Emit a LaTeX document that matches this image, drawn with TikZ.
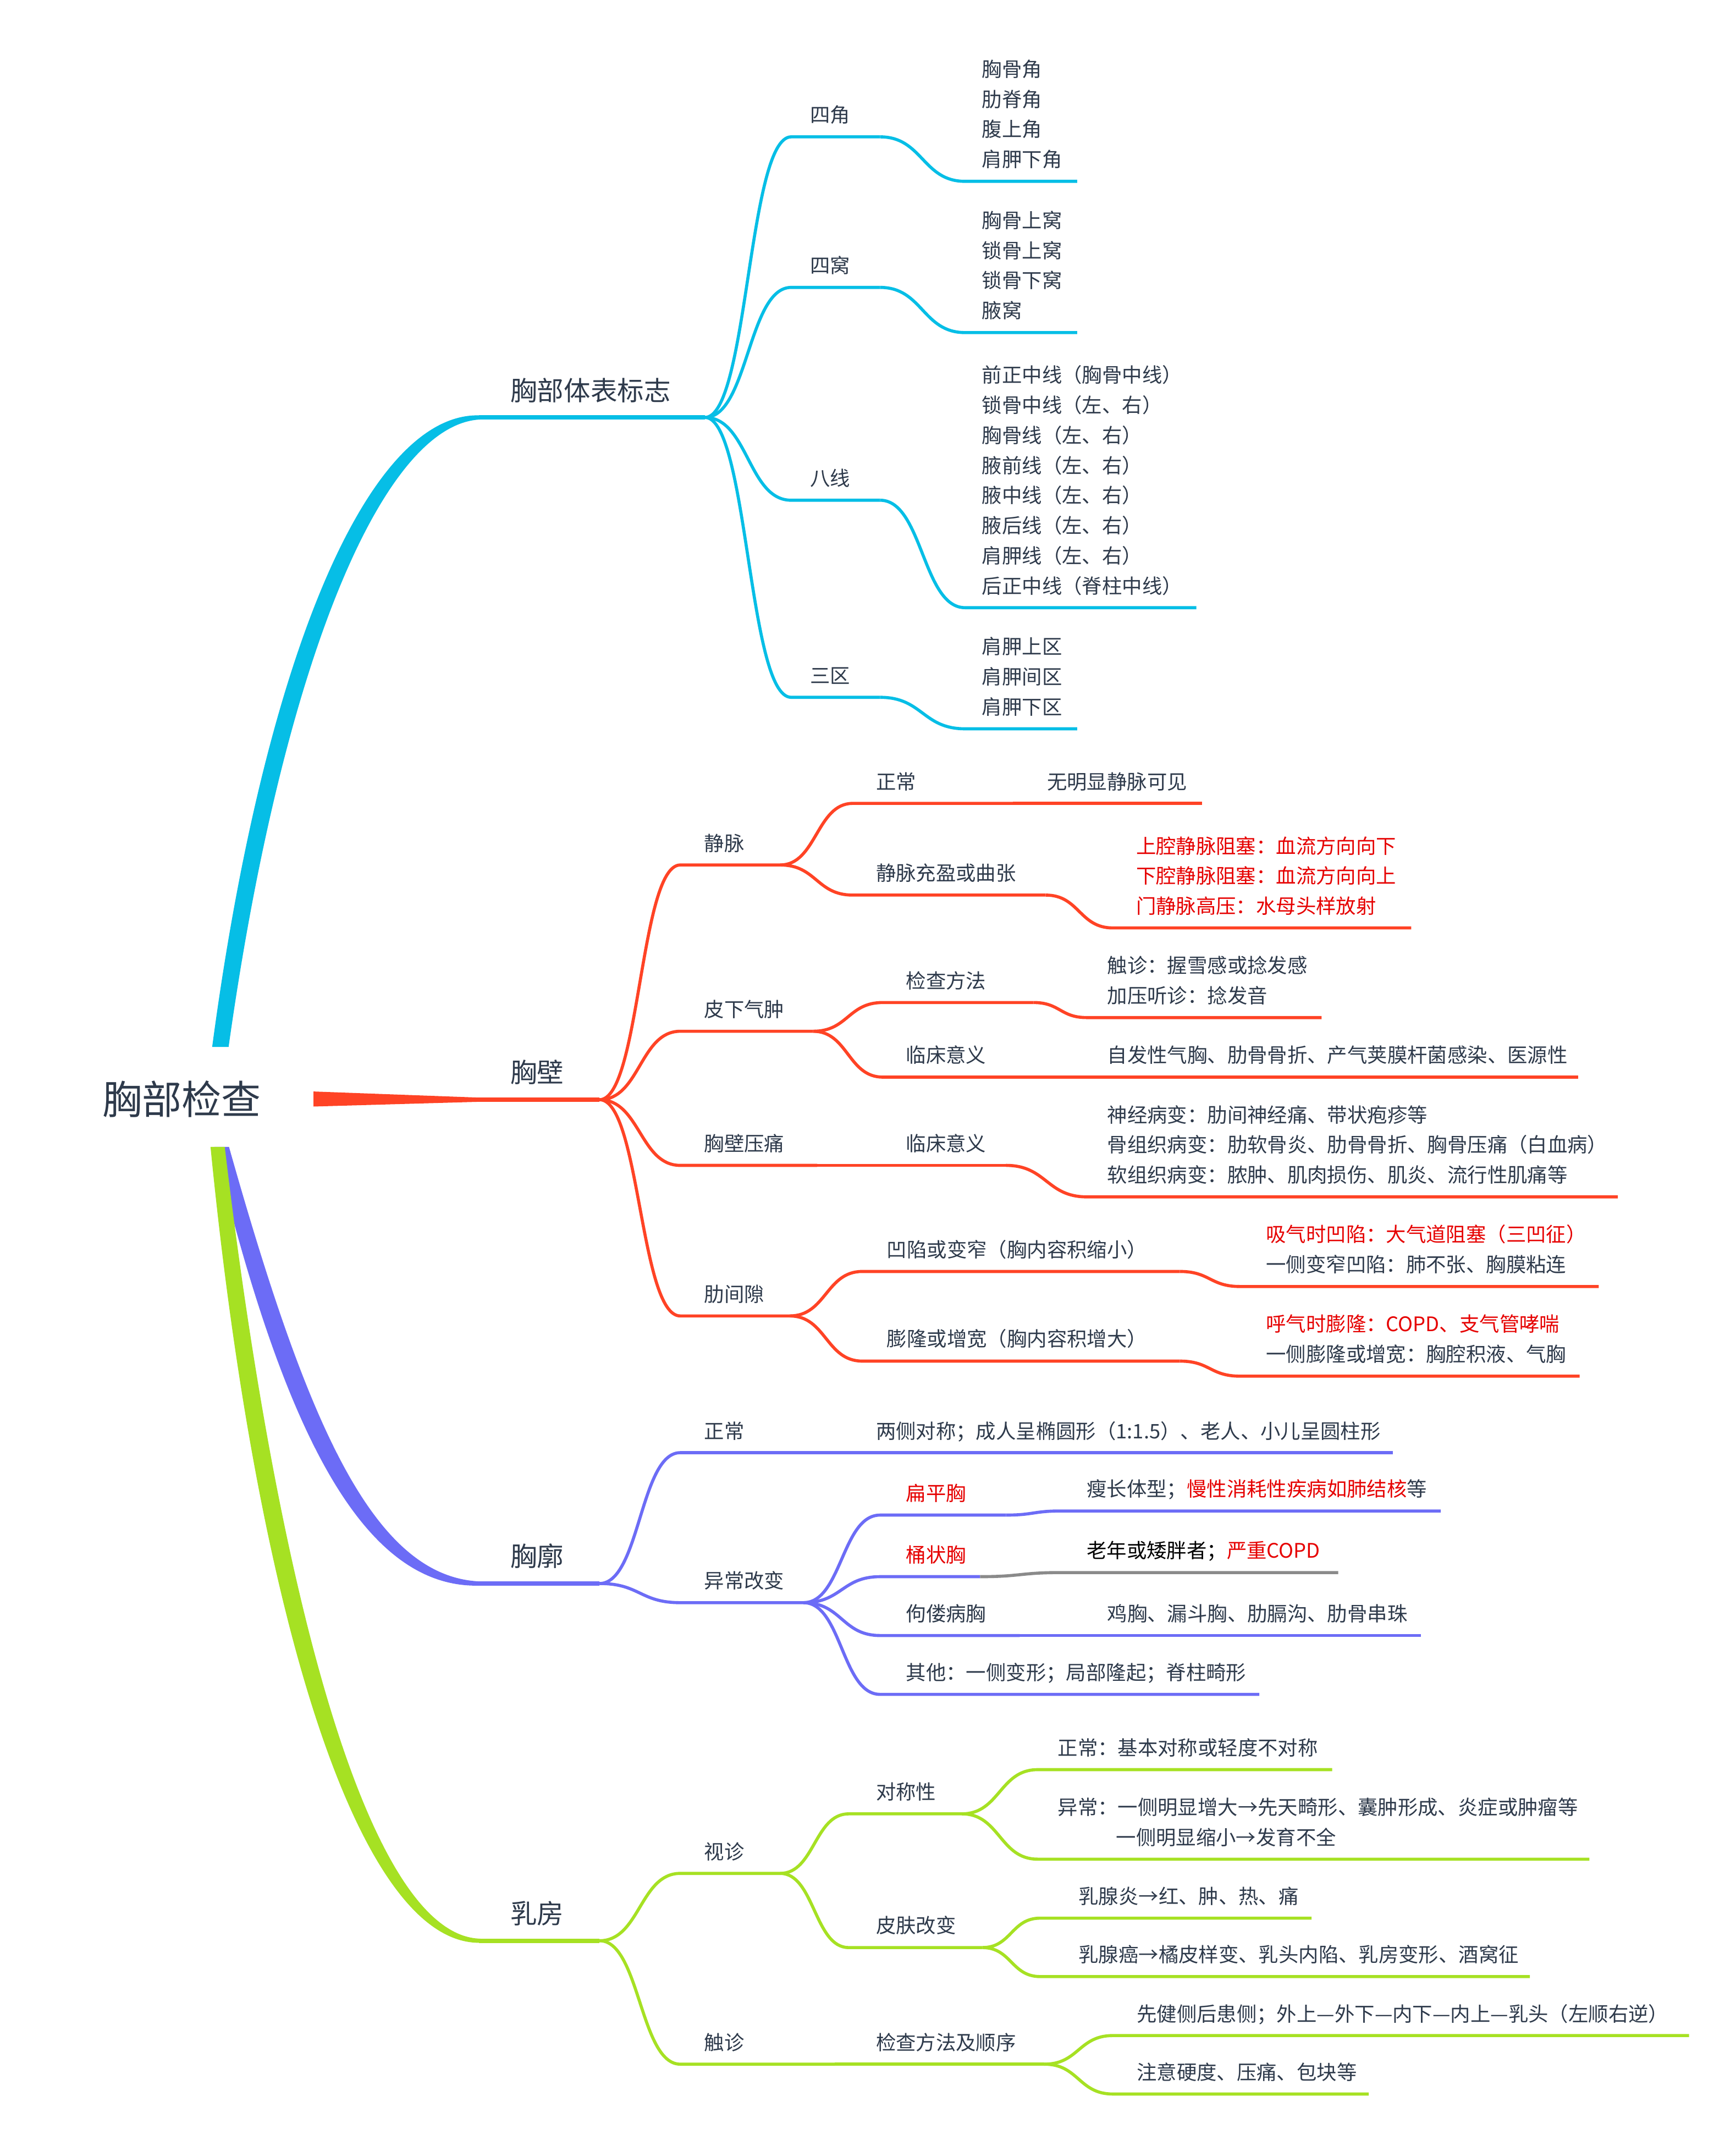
\documentclass[tikz,border=0pt]{standalone}
\usepackage{fontspec}
\setmainfont{Noto Sans CJK SC}
\usetikzlibrary{calc}
\definecolor{txt}{HTML}{2E3A4B}
\definecolor{cy}{HTML}{06BEE6}
\definecolor{rb}{HTML}{FF4325}
\definecolor{bl}{HTML}{6C6CF6}
\definecolor{gr}{HTML}{A6E123}
\definecolor{rt}{HTML}{E60000}
\definecolor{gy}{HTML}{8A8A8A}
\begin{document}
\begin{tikzpicture}[x=0.02489cm,y=-0.02489cm,
  tx/.style={anchor=base west,inner sep=0pt,outer sep=0pt,text=txt,font=\fontsize{10.35pt}{12pt}\selectfont},
  tone/.style={anchor=base west,inner sep=0pt,outer sep=0pt,text=txt,font=\fontsize{13.8pt}{16pt}\selectfont},
  troot/.style={anchor=base west,inner sep=0pt,outer sep=0pt,text=txt,font=\fontsize{20.5pt}{24pt}\selectfont},
  redt/.style={text=rt},
  ln/.style={line width=1.6pt},
  lone/.style={line width=2.2pt},
  cn/.style={to path={let \p1=(\tikztostart),\p2=(\tikztotarget) in .. controls ({0.5*\x1+0.5*\x2},\y1) and ({0.5*\x1+0.5*\x2},\y2) .. (\tikztotarget)}}
]
\fill[white] (0,0) rectangle (1268,1568);
\useasboundingbox (0,0) rectangle (1268,1568);

% ---------- root ----------
\node[troot] (root) at (75,814) {胸部检查};

% ---------- level-1 anchor points ----------
\coordinate (As) at (350,305);    \coordinate (Ae) at (515,305);
\coordinate (Bs) at (350,803.5);  \coordinate (Be) at (438,803.5);
\coordinate (Cs) at (350,1157);   \coordinate (Ce) at (438,1157);
\coordinate (Ds) at (350,1418);   \coordinate (De) at (438,1418);

% tapered main branches
\fill[cy] (155,765) .. controls (193.2,478.3) and (269.7,300.4) .. (351,303.5) -- (351,306.5) .. controls (280.3,309.6) and (206.8,481.7) .. (167,765) -- cycle;
\fill[bl] (156.7,838) .. controls (206.5,1042.8) and (264.1,1161.5) .. (351,1158.5) -- (351,1155.5) .. controls (271.9,1152.5) and (223.5,1037.2) .. (167.3,838) -- cycle;
\fill[gr] (153.8,838) .. controls (186.6,1171.5) and (259.9,1421.2) .. (351,1419.5) -- (351,1416.5) .. controls (270.1,1414.8) and (203.4,1168.5) .. (164.2,838) -- cycle;
\fill[rb] (229,797.5) -- (351,802) -- (351,805) -- (229,808.5) -- cycle;

\draw[lone,cy] (As) -- (Ae);
\draw[lone,rb] (Bs) -- (Be);
\draw[lone,bl] (Cs) -- (Ce);
\draw[lone,gr] (Ds) -- (De);

\node[tone] (nA) at (373,292.5) {胸部体表标志};
\node[tone] (nB) at (373,791) {胸壁};
\node[tone] (nC) at (373,1144.5) {胸廓};
\node[tone] (nD) at (373,1405.5) {乳房};

% ---------- A : 胸部体表标志 ----------
\coordinate (A1s) at (578,100);   \coordinate (A1e) at (643,100);
\coordinate (A1Ls) at (705,132.5);\coordinate (A1Le) at (787,132.5);
\coordinate (A2s) at (578,210);   \coordinate (A2e) at (643,210);
\coordinate (A2Ls) at (705,243);  \coordinate (A2Le) at (787,243);
\coordinate (A3s) at (578,365.5); \coordinate (A3e) at (643,365.5);
\coordinate (A3Ls) at (705,444);  \coordinate (A3Le) at (874,444);
\coordinate (A4s) at (578,509.5); \coordinate (A4e) at (643,509.5);
\coordinate (A4Ls) at (705,532.5);\coordinate (A4Le) at (787,532.5);

\draw[ln,cy] (Ae) to[cn] (A1s) -- (A1e);
\draw[ln,cy] (Ae) to[cn] (A2s) -- (A2e);
\draw[ln,cy] (Ae) to[cn] (A3s) -- (A3e);
\draw[ln,cy] (Ae) to[cn] (A4s) -- (A4e);
\draw[ln,cy] (A1e) to[cn] (A1Ls) -- (A1Le);
\draw[ln,cy] (A2e) to[cn] (A2Ls) -- (A2Le);
\draw[ln,cy] (A3e) to[cn] (A3Ls) -- (A3Le);
\draw[ln,cy] (A4e) to[cn] (A4Ls) -- (A4Le);

\node[tx] (nA1) at (592,89.5) {四角};
\node[tx] (nA2) at (592,199.5) {四窝};
\node[tx] (nA3) at (592,355) {八线};
\node[tx] (nA4) at (592,499) {三区};

\node[tx] (nA1a) at (717.5,56) {胸骨角};
\node[tx] (nA1b) at (717.5,78) {肋脊角};
\node[tx] (nA1c) at (717.5,100) {腹上角};
\node[tx] (nA1d) at (717.5,122) {肩胛下角};

\node[tx] (nA2a) at (717.5,166.5) {胸骨上窝};
\node[tx] (nA2b) at (717.5,188.5) {锁骨上窝};
\node[tx] (nA2c) at (717.5,210.5) {锁骨下窝};
\node[tx] (nA2d) at (717.5,232.5) {腋窝};

\node[tx] (nA3a) at (717.5,279.5) {前正中线（胸骨中线）};
\node[tx] (nA3b) at (717.5,301.5) {锁骨中线（左、右）};
\node[tx] (nA3c) at (717.5,323.5) {胸骨线（左、右）};
\node[tx] (nA3d) at (717.5,345.5) {腋前线（左、右）};
\node[tx] (nA3e) at (717.5,367.5) {腋中线（左、右）};
\node[tx] (nA3f) at (717.5,389.5) {腋后线（左、右）};
\node[tx] (nA3g) at (717.5,411.5) {肩胛线（左、右）};
\node[tx] (nA3h) at (717.5,433.5) {后正中线（脊柱中线）};

\node[tx] (nA4a) at (717.5,478) {肩胛上区};
\node[tx] (nA4b) at (717.5,500) {肩胛间区};
\node[tx] (nA4c) at (717.5,522) {肩胛下区};

% ---------- B : 胸壁 ----------
\coordinate (B1s) at (497,632);    \coordinate (B1e) at (570,632);
\coordinate (B1as) at (623,587);   \coordinate (B1ae) at (740,587);
\coordinate (B1aLs) at (750,587);  \coordinate (B1aLe) at (878,587);
\coordinate (B1bs) at (623,654);   \coordinate (B1be) at (764,654);
\coordinate (B1bLs) at (813,678);  \coordinate (B1bLe) at (1031,678);
\coordinate (B2s) at (497,753.5);  \coordinate (B2e) at (594,753.5);
\coordinate (B2as) at (645,732.5); \coordinate (B2ae) at (755,732.5);
\coordinate (B2aLs) at (794,743.5);\coordinate (B2aLe) at (965.5,743.5);
\coordinate (B2bs) at (645,787);   \coordinate (B2be) at (745,787);
\coordinate (B2bLs) at (755,787);  \coordinate (B2bLe) at (1153,787);
\coordinate (B3s) at (497,851.5);  \coordinate (B3e) at (597,851.5);
\coordinate (B3as) at (605,851.5); \coordinate (B3ae) at (735,851.5);
\coordinate (B3aLs) at (794,874.5);\coordinate (B3aLe) at (1182,874.5);
\coordinate (B4s) at (497,961.5);  \coordinate (B4e) at (577,961.5);
\coordinate (B4as) at (630,929);   \coordinate (B4ae) at (862,929);
\coordinate (B4aLs) at (906,940);  \coordinate (B4aLe) at (1168,940);
\coordinate (B4bs) at (630,994.5); \coordinate (B4be) at (862,994.5);
\coordinate (B4bLs) at (906,1005.5);\coordinate (B4bLe) at (1154,1005.5);

\draw[ln,rb] (Be) to[cn] (B1s) -- (B1e);
\draw[ln,rb] (Be) to[cn] (B2s) -- (B2e);
\draw[ln,rb] (Be) to[cn] (B3s) -- (B3e);
\draw[ln,rb] (Be) to[cn] (B4s) -- (B4e);
\draw[ln,rb] (B1e) to[cn] (B1as) -- (B1ae);
\draw[ln,rb] (B1ae) to[cn] (B1aLs) -- (B1aLe);
\draw[ln,rb] (B1e) to[cn] (B1bs) -- (B1be);
\draw[ln,rb] (B1be) to[cn] (B1bLs) -- (B1bLe);
\draw[ln,rb] (B2e) to[cn] (B2as) -- (B2ae);
\draw[ln,rb] (B2ae) to[cn] (B2aLs) -- (B2aLe);
\draw[ln,rb] (B2e) to[cn] (B2bs) -- (B2be);
\draw[ln,rb] (B2be) to[cn] (B2bLs) -- (B2bLe);
\draw[ln,rb] (B3e) to[cn] (B3as) -- (B3ae);
\draw[ln,rb] (B3ae) to[cn] (B3aLs) -- (B3aLe);
\draw[ln,rb] (B4e) to[cn] (B4as) -- (B4ae);
\draw[ln,rb] (B4ae) to[cn] (B4aLs) -- (B4aLe);
\draw[ln,rb] (B4e) to[cn] (B4bs) -- (B4be);
\draw[ln,rb] (B4be) to[cn] (B4bLs) -- (B4bLe);

\node[tx] (nB1) at (514.5,621.5) {静脉};
\node[tx] (nB2) at (514.5,743) {皮下气肿};
\node[tx] (nB3) at (514.5,841) {胸壁压痛};
\node[tx] (nB4) at (514.5,951) {肋间隙};

\node[tx] (nB1a) at (640,576.5) {正常};
\node[tx] (nB1aL) at (765,576.5) {无明显静脉可见};
\node[tx] (nB1b) at (640,643.5) {静脉充盈或曲张};
\node[tx,redt] (nB1bL1) at (830,623.5) {上腔静脉阻塞：血流方向向下};
\node[tx,redt] (nB1bL2) at (830,645.5) {下腔静脉阻塞：血流方向向上};
\node[tx,redt] (nB1bL3) at (830,667.5) {门静脉高压：水母头样放射};

\node[tx] (nB2a) at (662,722) {检查方法};
\node[tx] (nB2aL1) at (809,711) {触诊：握雪感或捻发感};
\node[tx] (nB2aL2) at (809,733) {加压听诊：捻发音};
\node[tx] (nB2b) at (662,776.5) {临床意义};
\node[tx] (nB2bL) at (809,776.5) {自发性气胸、肋骨骨折、产气荚膜杆菌感染、医源性};

\node[tx] (nB3a) at (662,841) {临床意义};
\node[tx] (nB3aL1) at (809,820) {神经病变：肋间神经痛、带状疱疹等};
\node[tx] (nB3aL2) at (809,842) {骨组织病变：肋软骨炎、肋骨骨折、胸骨压痛（白血病）};
\node[tx] (nB3aL3) at (809,864) {软组织病变：脓肿、肌肉损伤、肌炎、流行性肌痛等};

\node[tx] (nB4a) at (648,918.5) {凹陷或变窄（胸内容积缩小）};
\node[tx,redt] (nB4aL1) at (925,907.5) {吸气时凹陷：大气道阻塞（三凹征）};
\node[tx] (nB4aL2) at (925,929.5) {一侧变窄凹陷：肺不张、胸膜粘连};
\node[tx] (nB4b) at (648,983.5) {膨隆或增宽（胸内容积增大）};
\node[tx,redt] (nB4bL1) at (925,973) {呼气时膨隆：COPD、支气管哮喘};
\node[tx] (nB4bL2) at (925,995) {一侧膨隆或增宽：胸腔积液、气胸};

% ---------- C : 胸廓 ----------
\coordinate (C1s) at (497,1061.4);  \coordinate (C1e) at (610,1061.4);
\coordinate (C1Ls) at (620,1061.4); \coordinate (C1Le) at (1017.6,1061.4);
\coordinate (C2s) at (497,1171);    \coordinate (C2e) at (587,1171);
\coordinate (C2as) at (643,1107);   \coordinate (C2ae) at (735,1107);
\coordinate (C2aLs) at (775,1104);  \coordinate (C2aLe) at (1052.6,1104);
\coordinate (C2bs) at (643,1152);   \coordinate (C2be) at (716,1152);
\coordinate (C2bLs) at (775,1149);  \coordinate (C2bLe) at (977.7,1149);
\coordinate (C2cs) at (643,1195);   \coordinate (C2ce) at (745,1195);
\coordinate (C2cLs) at (755,1195);  \coordinate (C2cLe) at (1038,1195);
\coordinate (C2ds) at (643,1238);   \coordinate (C2de) at (920,1238);

\draw[ln,bl] (Ce) to[cn] (C1s) -- (C1e);
\draw[ln,bl] (C1e) to[cn] (C1Ls) -- (C1Le);
\draw[ln,bl] (Ce) to[cn] (C2s) -- (C2e);
\draw[ln,bl] (C2e) to[cn] (C2as) -- (C2ae);
\draw[ln,bl] (C2ae) to[cn] (C2aLs) -- (C2aLe);
\draw[ln,bl] (C2e) to[cn] (C2bs) -- (C2be);
\draw[ln,gy] (C2be) to[cn] (C2bLs) -- (C2bLe);
\draw[ln,bl] (C2e) to[cn] (C2cs) -- (C2ce);
\draw[ln,bl] (C2ce) to[cn] (C2cLs) -- (C2cLe);
\draw[ln,bl] (C2e) to[cn] (C2ds) -- (C2de);

\node[tx] (nC1) at (514.5,1051) {正常};
\node[tx] (nC1L) at (640,1051) {两侧对称；成人呈椭圆形（1:1.5）、老人、小儿呈圆柱形};
\node[tx] (nC2) at (514.5,1160.5) {异常改变};
\node[tx,redt] (nC2a) at (662,1096.5) {扁平胸};
\node[tx] (nC2aL) at (794,1093.5) {瘦长体型；\textcolor{rt}{慢性消耗性疾病如肺结核}等};
\node[tx,redt] (nC2b) at (662,1141.5) {桶状胸};
\node[tx] (nC2bL) at (794,1138.5) {\textcolor{black}{老年或矮胖者；}\textcolor{rt}{严重COPD}};
\node[tx] (nC2c) at (662,1184.5) {佝偻病胸};
\node[tx] (nC2cL) at (809,1184.5) {鸡胸、漏斗胸、肋膈沟、肋骨串珠};
\node[tx] (nC2d) at (662,1227.5) {其他：一侧变形；局部隆起；脊柱畸形};

% ---------- D : 乳房 ----------
\coordinate (D1s) at (497,1368.8);    \coordinate (D1e) at (570,1368.8);
\coordinate (D1as) at (620,1325.3);   \coordinate (D1ae) at (702.7,1325.3);
\coordinate (D1aL1s) at (758,1293);   \coordinate (D1aL1e) at (973.3,1293);
\coordinate (D1aL2s) at (758,1358.4); \coordinate (D1aL2e) at (1161.2,1358.4);
\coordinate (D1bs) at (620,1423);     \coordinate (D1be) at (717.7,1423);
\coordinate (D1bL1s) at (760,1401.5); \coordinate (D1bL1e) at (958.2,1401.5);
\coordinate (D1bL2s) at (760,1444.2); \coordinate (D1bL2e) at (1117.7,1444.2);
\coordinate (D2s) at (497,1508.2);    \coordinate (D2e) at (610,1508.2);
\coordinate (D2as) at (620,1508.2);   \coordinate (D2ae) at (763,1508.2);
\coordinate (D2aL1s) at (813,1487.3); \coordinate (D2aL1e) at (1234,1487.3);
\coordinate (D2aL2s) at (813,1530);   \coordinate (D2aL2e) at (1000,1530);

\draw[ln,gr] (De) to[cn] (D1s) -- (D1e);
\draw[ln,gr] (D1e) to[cn] (D1as) -- (D1ae);
\draw[ln,gr] (D1ae) to[cn] (D1aL1s) -- (D1aL1e);
\draw[ln,gr] (D1ae) to[cn] (D1aL2s) -- (D1aL2e);
\draw[ln,gr] (D1e) to[cn] (D1bs) -- (D1be);
\draw[ln,gr] (D1be) to[cn] (D1bL1s) -- (D1bL1e);
\draw[ln,gr] (D1be) to[cn] (D1bL2s) -- (D1bL2e);
\draw[ln,gr] (De) to[cn] (D2s) -- (D2e);
\draw[ln,gr] (D2e) to[cn] (D2as) -- (D2ae);
\draw[ln,gr] (D2ae) to[cn] (D2aL1s) -- (D2aL1e);
\draw[ln,gr] (D2ae) to[cn] (D2aL2s) -- (D2aL2e);

\node[tx] (nD1) at (514.5,1358.3) {视诊};
\node[tx] (nD1a) at (640,1314.8) {对称性};
\node[tx] (nD1aL1) at (772.8,1282.5) {正常：基本对称或轻度不对称};
\node[tx] (nD1aL2) at (772.8,1325.9) {异常：一侧明显增大→先天畸形、囊肿形成、炎症或肿瘤等};
\node[tx] (nD1aL3) at (815.4,1347.9) {一侧明显缩小→发育不全};
\node[tx] (nD1b) at (640,1412.5) {皮肤改变};
\node[tx] (nD1bL1) at (788,1391) {乳腺炎→红、肿、热、痛};
\node[tx] (nD1bL2) at (788,1433.7) {乳腺癌→橘皮样变、乳头内陷、乳房变形、酒窝征};
\node[tx] (nD2) at (514.5,1497.7) {触诊};
\node[tx] (nD2a) at (640,1497.7) {检查方法及顺序};
\node[tx] (nD2aL1) at (830.5,1476.8) {先健侧后患侧；外上—外下—内下—内上—乳头（左顺右逆）};
\node[tx] (nD2aL2) at (830.5,1519.5) {注意硬度、压痛、包块等};
\end{tikzpicture}
\end{document}
